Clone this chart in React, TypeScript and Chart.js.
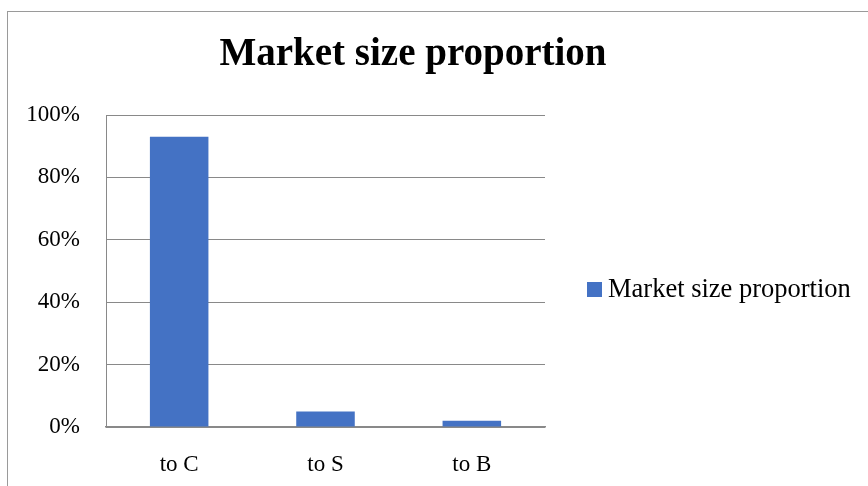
import React, { useEffect, useRef } from "react";
import { Chart, registerables } from "chart.js";

Chart.register(...registerables);

const titleText = "Market size proportion";
const categories = ["to C", "to S", "to B"];
const seriesName = "Market size proportion";
const seriesValues = [0.93, 0.05, 0.02];
const yTicks = [0, 0.2, 0.4, 0.6, 0.8, 1.0];

const FONT = "'Liberation Serif', 'Times New Roman', serif";
const GRID = "#898989";
const BAR = "#4472C4";

const titlePlugin = {
  id: "customTitle",
  afterDraw(chart: any) {
    const ctx = chart.ctx;
    ctx.save();
    ctx.font = `bold 39px ${FONT}`;
    ctx.fillStyle = "#000";
    ctx.textAlign = "center";
    ctx.textBaseline = "alphabetic";
    ctx.fillText(titleText, 413, 65);
    ctx.restore();
  },
};

const legendPlugin = {
  id: "customLegend",
  afterDraw(chart: any) {
    const ctx = chart.ctx;
    const ds = chart.data.datasets[0];
    const x = chart.chartArea.right + 42;
    const yBase = 297;
    ctx.save();
    ctx.fillStyle = ds.backgroundColor;
    ctx.fillRect(x, 282, 15, 15);
    ctx.font = `26.5px ${FONT}`;
    ctx.fillStyle = "#000";
    ctx.textAlign = "left";
    ctx.textBaseline = "alphabetic";
    ctx.fillText(ds.label, x + 21, yBase);
    ctx.restore();
  },
};

export default function App() {
  const ref = useRef<HTMLCanvasElement | null>(null);
  useEffect(() => {
    if (!ref.current) return;
    const chart = new Chart(ref.current, {
      type: "bar",
      data: {
        labels: categories,
        datasets: [
          {
            label: seriesName,
            data: seriesValues,
            backgroundColor: BAR,
            borderWidth: 0,
            categoryPercentage: 1,
            barPercentage: 0.4,
          },
        ],
      },
      options: {
        animation: false,
        responsive: false,
        maintainAspectRatio: false,
        layout: { padding: { top: 115, left: 0, right: 323, bottom: 0 } },
        plugins: {
          title: { display: false },
          tooltip: { enabled: false },
          legend: { display: false },
        },
        scales: {
          x: {
            afterFit: (scale: any) => {
              scale.height = 59;
            },
            grid: { display: false },
            border: { display: true, color: GRID, width: 1.5 },
            ticks: {
              color: "#000",
              padding: 16,
              font: { family: FONT, size: 23 },
            },
          },
          y: {
            min: 0,
            max: 1,
            afterBuildTicks: (scale: any) => {
              scale.ticks = yTicks.map((v) => ({ value: v }));
            },
            afterFit: (scale: any) => {
              scale.width = 106;
            },
            grid: { color: GRID, drawTicks: false, lineWidth: 1 },
            border: { display: true, color: GRID, width: 1 },
            ticks: {
              color: "#000",
              padding: 26,
              font: { family: FONT, size: 23 },
              callback: (v: any) => `${Math.round(Number(v) * 100)}%`,
            },
          },
        },
      },
      plugins: [titlePlugin, legendPlugin],
    });
    return () => chart.destroy();
  }, []);

  return (
    <div style={{ position: "fixed", left: 0, top: 0, width: 868, height: 486, background: "#fff", overflow: "hidden" }}>
      <div
        style={{
          position: "absolute",
          left: 7,
          top: 11,
          width: 900,
          height: 520,
          border: "1.5px solid #9a9a9a",
          boxSizing: "border-box",
        }}
      />
      <canvas ref={ref} width={868} height={486} style={{ position: "absolute", left: 0, top: 0, width: 868, height: 486 }} />
    </div>
  );
}
